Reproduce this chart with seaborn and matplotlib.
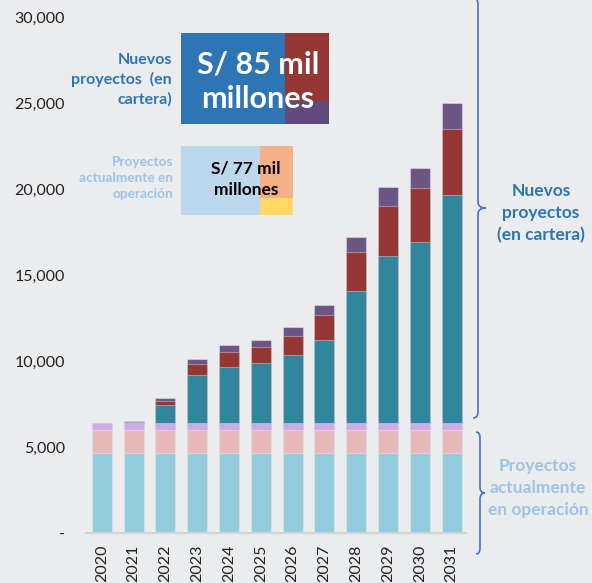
import numpy as np
import pandas as pd
import matplotlib
matplotlib.use('Agg')
import matplotlib.pyplot as plt
from matplotlib.path import Path
from matplotlib.patches import PathPatch, Rectangle
import seaborn as sns

# Data (millones de soles)
years = ['2020', '2021', '2022', '2023', '2024', '2025', '2026',
         '2027', '2028', '2029', '2030', '2031']
# proyectos actualmente en operación
op_base = [4700] * 12
op_mid = [1300] * 12
op_top = [440] * 12
# nuevos proyectos (en cartera)
cart_teal = [0, 60, 1030, 2760, 3260, 3450, 3920, 4790, 7640, 9690, 10490, 13220]
cart_red = [0, 0, 250, 670, 840, 950, 1140, 1490, 2300, 2910, 3140, 3870]
cart_purple = [0, 30, 140, 270, 410, 410, 510, 560, 870, 1090, 1180, 1470]

layer_names = ['op_base', 'op_mid', 'op_top', 'cart_teal', 'cart_red', 'cart_purple']
layer_colors = ['#93CDDD', '#E6B9B8', '#CDABE6', '#31859C', '#943634', '#6B5585']

bg = '#EBECEE'
blue_dark = '#2E75B6'
blue_light = '#9DC3E6'

sns.set_theme(style='white')
plt.rcParams['font.family'] = ['Lato', 'DejaVu Sans']

df = pd.DataFrame({'year': years, 'op_base': op_base, 'op_mid': op_mid,
                   'op_top': op_top, 'cart_teal': cart_teal,
                   'cart_red': cart_red, 'cart_purple': cart_purple})
cum = df[layer_names].cumsum(axis=1)
cum['year'] = df['year']

fig = plt.figure(figsize=(5.92, 5.83), dpi=100, facecolor=bg)
ax = fig.add_axes([0.145, 0.085, 0.642, 0.885])
ax.set_facecolor(bg)

# stacked bars: draw cumulative totals from the top layer down
for name, color in reversed(list(zip(layer_names, layer_colors))):
    sns.barplot(data=cum, x='year', y=name, order=years, color=color,
                saturation=1, width=0.63, edgecolor=(1, 1, 1, 0.35),
                linewidth=0.8, ax=ax, errorbar=None)

ax.set_ylim(0, 30000)
ax.set_xlim(-0.5, 11.45)
ax.set_yticks(np.arange(0, 30001, 5000))
ax.set_yticklabels(['-' if v == 0 else f'{v:,}' for v in range(0, 30001, 5000)],
                   fontsize=11.5, color='#222222')
ax.set_xticks(range(len(years)))
ax.set_xticklabels(years, rotation=90, fontsize=11.5, color='#222222')
ax.tick_params(length=0)
ax.tick_params(axis='x', pad=8)
ax.tick_params(axis='y', pad=15)
ax.set_xlabel('')
ax.set_ylabel('')
for s in ['top', 'right', 'left']:
    ax.spines[s].set_visible(False)
ax.spines['bottom'].set_color('#D3D4D6')
ax.spines['bottom'].set_linewidth(1.5)

# overlay in pixel coordinates for the annotations
ov = fig.add_axes([0, 0, 1, 1], zorder=5)
ov.set_xlim(0, 592)
ov.set_ylim(583, 0)
ov.axis('off')
ov.patch.set_alpha(0)

# legend box: nuevos proyectos
ov.add_patch(Rectangle((181, 33), 104, 91, color='#2E75B6', lw=0))
ov.add_patch(Rectangle((285, 33), 44, 68, color='#943634', lw=0))
ov.add_patch(Rectangle((285, 101), 44, 23, color='#604A7B', lw=0))
ov.text(258, 82, 'S/ 85 mil\nmillones', color='white', fontsize=22,
        fontweight='bold', ha='center', va='center', linespacing=1.3)
ov.text(172, 80, 'Nuevos\nproyectos  (en\ncartera)', color=blue_dark,
        fontsize=11.5, fontweight='bold', ha='right', va='center', linespacing=1.45)

# legend box: proyectos en operación
ov.add_patch(Rectangle((181, 146), 79, 69, color='#BDD7EE', lw=0))
ov.add_patch(Rectangle((260, 146), 33, 52, color='#F4B183', lw=0))
ov.add_patch(Rectangle((260, 198), 33, 17, color='#FFD966', lw=0))
ov.text(246, 179, 'S/ 77 mil\nmillones', color='black', fontsize=12.5,
        fontweight='bold', ha='center', va='center', linespacing=1.4)
ov.text(173, 178, 'Proyectos\nactualmente en\noperación', color=blue_light,
        fontsize=9.8, fontweight='bold', ha='right', va='center', linespacing=1.35)


def brace(x, y0, y1, d_end, d_tip, r=6):
    ym = (y0 + y1) / 2
    verts = [(x - d_end, y0), (x, y0), (x, y0 + r),
             (x, ym - r), (x, ym), (x + d_tip, ym),
             (x, ym), (x, ym + r),
             (x, y1 - r), (x, y1), (x - d_end, y1)]
    codes = [Path.MOVETO, Path.CURVE3, Path.CURVE3,
             Path.LINETO, Path.CURVE3, Path.CURVE3,
             Path.CURVE3, Path.CURVE3,
             Path.LINETO, Path.CURVE3, Path.CURVE3]
    ov.add_patch(PathPatch(Path(verts, codes), fill=False, color='#4472C4', lw=1.2))


brace(478, -2, 418, 5, 8)
brace(480, 432, 554, 4, 5)

ov.text(541, 213, 'Nuevos\nproyectos\n(en cartera)', color=blue_dark, fontsize=12.5,
        fontweight='bold', ha='center', va='center', linespacing=1.45)
ov.text(538, 488, 'Proyectos\nactualmente\nen operación', color=blue_light,
        fontsize=12.5, fontweight='bold', ha='center', va='center', linespacing=1.45)

fig.savefig('out.png', dpi=100, facecolor=bg)
